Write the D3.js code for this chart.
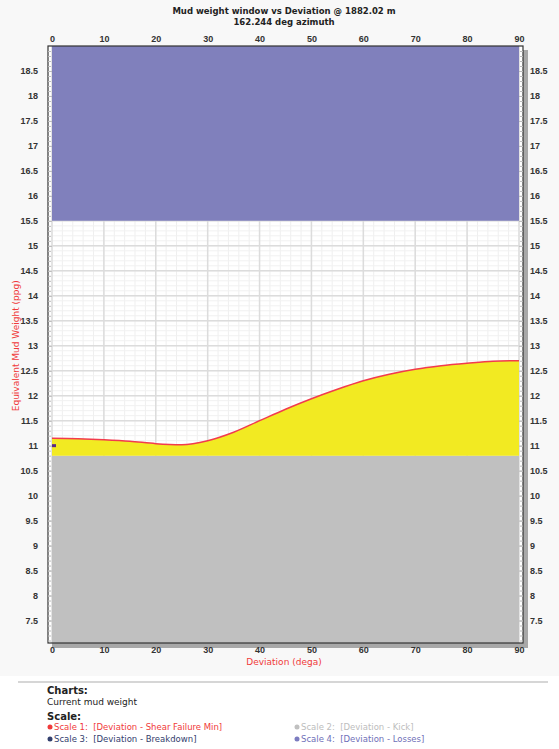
<!DOCTYPE html>
<html>
<head>
<meta charset="utf-8">
<script src="https://cdn.jsdelivr.net/npm/d3@7"></script>
<style>
  html, body { margin: 0; padding: 0; background: #ffffff; }
  svg { display: block; font-family: "DejaVu Sans", Verdana, sans-serif; }
</style>
</head>
<body>
<svg id="chart" width="559" height="749"></svg>
<script>
// data
const deviation = [0, 5, 10, 15, 20, 25, 30, 35, 40, 45, 50, 55, 60, 65, 70, 75, 80, 85, 90];
const shearFailureMin = [11.15, 11.14, 11.12, 11.09, 11.04, 11.02, 11.10, 11.27, 11.50, 11.73, 11.94, 12.13, 12.30, 12.43, 12.53, 12.60, 12.65, 12.69, 12.70];
const kick = [10.8, 10.8, 10.8, 10.8, 10.8, 10.8, 10.8, 10.8, 10.8, 10.8, 10.8, 10.8, 10.8, 10.8, 10.8, 10.8, 10.8, 10.8, 10.8];
const losses = [15.5, 15.5, 15.5, 15.5, 15.5, 15.5, 15.5, 15.5, 15.5, 15.5, 15.5, 15.5, 15.5, 15.5, 15.5, 15.5, 15.5, 15.5, 15.5];
const currentMudWeight = [{ dev: 0, mw: 11.0 }];

const xTicks = [0, 10, 20, 30, 40, 50, 60, 70, 80, 90];
const yTicks = [7.5, 8, 8.5, 9, 9.5, 10, 10.5, 11, 11.5, 12, 12.5, 13, 13.5, 14, 14.5, 15, 15.5, 16, 16.5, 17, 17.5, 18, 18.5];
const yDomain = [7.05, 19];

const titleLines = ['Mud weight window vs Deviation @ 1882.02 m', '162.244 deg azimuth'];
const legendItems = [
    { label: 'Scale 1:  [Deviation - Shear Failure Min]', color: '#f03a3a', text: '#f03a3a', col: 0, row: 0 },
    { label: 'Scale 2:  [Deviation - Kick]', color: '#c0c0c0', text: '#bdbdbd', col: 1, row: 0 },
    { label: 'Scale 3:  [Deviation - Breakdown]', color: '#33406e', text: '#33406e', col: 0, row: 1 },
    { label: 'Scale 4:  [Deviation - Losses]', color: '#7c7cc0', text: '#6f6fb8', col: 1, row: 1 }
];

const frame = { left: 48, right: 523, top: 46, bottom: 643 };

const svg = d3.select('#chart');

// light background behind the chart area
svg.append('rect').attr('x', 0).attr('y', 0).attr('width', 559).attr('height', 676).attr('fill', '#f8f8f8');

const x = d3.scaleLinear().domain([0, 90]).range([frame.left + 4, frame.right - 4]);
const y = d3.scaleLinear().domain(yDomain).range([frame.bottom, frame.top]);

// shadow + plot background
svg.append('rect')
    .attr('x', frame.left + 4).attr('y', frame.top + 4)
    .attr('width', frame.right - frame.left + 1).attr('height', frame.bottom - frame.top + 1)
    .attr('fill', '#a8a8a8');
svg.append('rect')
    .attr('x', frame.left).attr('y', frame.top)
    .attr('width', frame.right - frame.left).attr('height', frame.bottom - frame.top)
    .attr('fill', '#ffffff');

// grid
const grid = svg.append('g');
const minorX = d3.range(0, 90.001, 2);
const minorY = d3.range(7.1, 19.0, 0.1);
grid.selectAll('.vminor').data(minorX).join('line')
    .attr('x1', (d) => x(d)).attr('x2', (d) => x(d))
    .attr('y1', frame.top).attr('y2', frame.bottom)
    .attr('stroke', '#efefef').attr('stroke-width', 1);
grid.selectAll('.hminor').data(minorY).join('line')
    .attr('x1', x(0)).attr('x2', x(90))
    .attr('y1', (d) => y(d)).attr('y2', (d) => y(d))
    .attr('stroke', '#f1f1f1').attr('stroke-width', 1);
grid.selectAll('.vmajor').data(xTicks).join('line')
    .attr('x1', (d) => x(d)).attr('x2', (d) => x(d))
    .attr('y1', frame.top).attr('y2', frame.bottom)
    .attr('stroke', '#dcdcdc').attr('stroke-width', 1.5);
grid.selectAll('.hmajor').data(yTicks).join('line')
    .attr('x1', x(0)).attr('x2', x(90))
    .attr('y1', (d) => y(d)).attr('y2', (d) => y(d))
    .attr('stroke', '#dcdcdc').attr('stroke-width', 1.5);

const rows = deviation.map((d, i) => ({ dev: d, shear: shearFailureMin[i], kick: kick[i], losses: losses[i] }));

// losses (top band)
svg.append('path')
    .datum(rows)
    .attr('fill', '#8080bc')
    .attr('d', d3.area().x((d) => x(d.dev)).y0(y(yDomain[1])).y1((d) => y(d.losses)));

// kick (bottom band)
svg.append('path')
    .datum(rows)
    .attr('fill', '#c0c0c0')
    .attr('d', d3.area().x((d) => x(d.dev)).y0(y(yDomain[0])).y1((d) => y(d.kick)));

// window between kick and shear failure
svg.append('path')
    .datum(rows)
    .attr('fill', '#f2ea22')
    .attr('d', d3.area().curve(d3.curveMonotoneX).x((d) => x(d.dev)).y0((d) => y(d.kick)).y1((d) => y(d.shear)));

svg.append('path')
    .datum(rows)
    .attr('fill', 'none')
    .attr('stroke', '#f23b4d')
    .attr('stroke-width', 1.5)
    .attr('d', d3.line().curve(d3.curveMonotoneX).x((d) => x(d.dev)).y((d) => y(d.shear)));

// current mud weight marker
svg.selectAll('.mw').data(currentMudWeight).join('rect')
    .attr('x', (d) => x(d.dev)).attr('y', (d) => y(d.mw) - 1.5)
    .attr('width', 4).attr('height', 3)
    .attr('fill', '#5b2a86');

// frame
svg.append('rect')
    .attr('x', frame.left).attr('y', frame.top)
    .attr('width', frame.right - frame.left).attr('height', frame.bottom - frame.top)
    .attr('fill', 'none').attr('stroke', '#333333').attr('stroke-width', 1.2);

// axes
const fmt = (d) => String(d);
const styleAxis = (g) => {
    g.select('.domain').remove();
    g.selectAll('text').attr('fill', '#333333').attr('font-size', 9).attr('font-weight', 'bold');
    g.selectAll('line').attr('stroke', '#bbbbbb');
};

svg.append('g').attr('transform', `translate(0,${frame.top})`)
    .call(d3.axisTop(x).tickValues(xTicks).tickFormat(fmt).tickSize(0).tickPadding(4))
    .call(styleAxis);
svg.append('g').attr('transform', `translate(0,${frame.bottom})`)
    .call(d3.axisBottom(x).tickValues(xTicks).tickFormat(fmt).tickSize(0).tickPadding(4))
    .call(styleAxis);
svg.append('g').attr('transform', `translate(${frame.left},0)`)
    .call(d3.axisLeft(y).tickValues(yTicks).tickFormat(fmt).tickSize(-4).tickPadding(10))
    .call(styleAxis);
svg.append('g').attr('transform', `translate(${frame.right},0)`)
    .call(d3.axisRight(y).tickValues(yTicks).tickFormat(fmt).tickSize(-4).tickPadding(7))
    .call(styleAxis);

// minor ticks in the side strips
svg.append('g').attr('transform', `translate(${frame.left},0)`)
    .call(d3.axisLeft(y).tickValues(minorY).tickFormat('').tickSize(-3))
    .call(styleAxis);
svg.append('g').attr('transform', `translate(${frame.right},0)`)
    .call(d3.axisRight(y).tickValues(minorY).tickFormat('').tickSize(-3))
    .call(styleAxis);

// titles
svg.selectAll('.title').data(titleLines).join('text')
    .attr('x', 284).attr('y', (d, i) => 14 + i * 11)
    .attr('text-anchor', 'middle')
    .attr('font-size', 8.5).attr('font-weight', 'bold').attr('fill', '#222222')
    .text((d) => d);

svg.append('text')
    .attr('x', 284).attr('y', 665)
    .attr('text-anchor', 'middle')
    .attr('font-size', 9).attr('fill', '#f03a3a')
    .text('Deviation (dega)');

svg.append('text')
    .attr('transform', `translate(19,${y(13)}) rotate(-90)`)
    .attr('text-anchor', 'middle')
    .attr('font-size', 9).attr('fill', '#f03a3a')
    .text('Equivalent Mud Weight (ppg)');

// legend
svg.append('line')
    .attr('x1', 18).attr('x2', 548).attr('y1', 682).attr('y2', 682)
    .attr('stroke', '#d6d6d6').attr('stroke-width', 2);

svg.append('text').attr('x', 47).attr('y', 694)
    .attr('font-size', 10).attr('font-weight', 'bold').attr('fill', '#222222').text('Charts:');
svg.append('text').attr('x', 47).attr('y', 705)
    .attr('font-size', 9).attr('fill', '#222222').text('Current mud weight');
svg.append('text').attr('x', 47).attr('y', 720)
    .attr('font-size', 10).attr('font-weight', 'bold').attr('fill', '#222222').text('Scale:');

const leg = svg.selectAll('.leg').data(legendItems).join('g')
    .attr('transform', (d) => `translate(${d.col === 0 ? 50 : 297},${730 + d.row * 12})`);
leg.append('circle').attr('cx', 0).attr('cy', -3).attr('r', 2.5).attr('fill', (d) => d.color);
leg.append('text').attr('x', 4).attr('y', 0)
    .attr('font-size', 8.5).attr('fill', (d) => d.text)
    .attr('xml:space', 'preserve')
    .style('white-space', 'pre')
    .text((d) => d.label);
</script>
</body>
</html>
